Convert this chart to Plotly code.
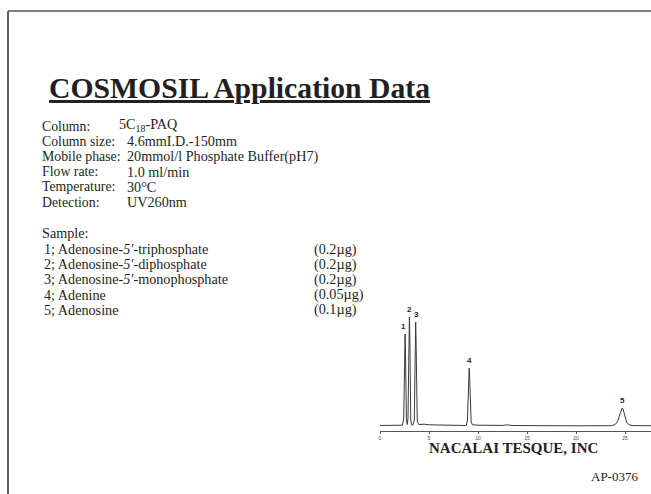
import plotly.graph_objects as go

W, H = 651, 494

# ---- data -------------------------------------------------------------
title = "COSMOSIL Application Data"
cond_labels = ["Column:", "Column size:", "Mobile phase:", "Flow rate:", "Temperature:", "Detection:"]
cond_values = ["5C<sub>18</sub>-PAQ", "4.6mmI.D.-150mm", "20mmol/l Phosphate Buffer(pH7)",
               "1.0 ml/min", "30°C", "UV260nm"]
sample_names = ["1; Adenosine-<i>5′</i>-triphosphate", "2; Adenosine-<i>5′</i>-diphosphate",
                "3; Adenosine-<i>5′</i>-monophosphate", "4; Adenine", "5; Adenosine"]
sample_amounts = ["(0.2µg)", "(0.2µg)", "(0.2µg)", "(0.05µg)", "(0.1µg)"]

# chromatogram trace (time in min, signal in arbitrary units)
time = [0, 2.0, 2.3, 2.42, 2.48, 2.52, 2.56, 2.6, 2.64, 2.7, 2.78,
        2.86, 2.92, 2.96, 3.0, 3.04, 3.08, 3.14, 3.22,
        3.35, 3.5, 3.56, 3.6, 3.64, 3.68, 3.72, 3.8, 3.95,
        4.5, 5.0, 6.0, 7.0, 8.0, 8.8, 8.92, 9.0, 9.06, 9.1, 9.14, 9.2, 9.3, 9.45,
        10.0, 12.5, 13.0, 13.5, 16.0, 20.0, 23.6, 24.0, 24.25, 24.45, 24.6, 24.7,
        24.8, 24.95, 25.15, 25.4, 25.8, 27.7]
signal = [0.5, 0.5, 0.8, 8, 40, 80, 92, 75, 35, 6, 1.5,
          8, 55, 95, 109, 92, 45, 6, 1.2,
          0.8, 6, 50, 92, 104, 85, 40, 5, 1.5,
          1.8, 1.2, 1.0, 1.2, 0.5, 0.5, 6, 30, 52, 58, 50, 22, 4, 1.2,
          0.8, 0.6, 1.2, 0.5, 0.2, 0.2, 0.3, 1.5, 5, 11, 16, 18,
          17, 11, 4, 1.2, 0.4, 0.3]
peak_labels = ["1", "2", "3", "4", "5"]
peak_times = [2.4, 3.0, 3.7, 9.1, 24.7]
peak_heights = [92, 109, 104, 58, 18]
x_ticks = [0, 5, 10, 15, 20, 25]

company = "NACALAI TESQUE, INC"
doc_id = "AP-0376"

# ---- helpers ----------------------------------------------------------
def px(x):
    return x / W

def py(y):
    return 1 - y / H

SERIF = "Liberation Serif, Times New Roman, serif"
SANS = "Liberation Sans, Arial, sans-serif"
INK = "#231f20"
LABEL_SIZE = 13.8
BODY = 14.2

fig = go.Figure()
fig.add_trace(go.Scatter(x=time, y=signal, mode="lines",
                         line=dict(color="#3a3a3a", width=1), hoverinfo="skip"))

ann = []
ann.append(dict(x=px(47), y=py(88), xref="paper", yref="paper", xanchor="left", yanchor="middle",
                text="<b><u>" + title + "</u></b>", showarrow=False,
                font=dict(family=SERIF, size=29.7, color=INK)))

cond_y0, cond_dy = 126, 15.2
for i, (lab, val) in enumerate(zip(cond_labels, cond_values)):
    yy = cond_y0 + i * cond_dy
    ann.append(dict(x=px(40), y=py(yy), xref="paper", yref="paper", xanchor="left", yanchor="middle",
                    text=lab, showarrow=False, font=dict(family=SERIF, size=LABEL_SIZE, color=INK)))
    ann.append(dict(x=px(117 if i == 0 else 125), y=py(yy - (1.5 if i == 0 else 0)),
                    xref="paper", yref="paper",
                    xanchor="left", yanchor="middle", text=val, showarrow=False,
                    font=dict(family=SERIF, size=BODY, color=INK)))

ann.append(dict(x=px(40), y=py(233), xref="paper", yref="paper", xanchor="left", yanchor="middle",
                text="Sample:", showarrow=False, font=dict(family=SERIF, size=BODY, color=INK)))
for i, (nm, am) in enumerate(zip(sample_names, sample_amounts)):
    yy = 249 + i * 15.2
    ann.append(dict(x=px(42), y=py(yy), xref="paper", yref="paper", xanchor="left", yanchor="middle",
                    text=nm, showarrow=False, font=dict(family=SERIF, size=BODY, color=INK)))
    ann.append(dict(x=px(312), y=py(yy), xref="paper", yref="paper", xanchor="left", yanchor="middle",
                    text=am, showarrow=False, font=dict(family=SERIF, size=BODY, color=INK)))

for lab, t, h in zip(peak_labels, peak_times, peak_heights):
    ann.append(dict(x=t, y=h, xref="x", yref="y", xanchor="center", yanchor="bottom",
                    text="<b>" + lab + "</b>", showarrow=False, yshift=1,
                    font=dict(family=SANS, size=8, color=INK)))

ann.append(dict(x=px(513), y=py(448), xref="paper", yref="paper", xanchor="center", yanchor="middle",
                text="<b>" + company + "</b>", showarrow=False,
                font=dict(family=SERIF, size=15, color=INK)))
ann.append(dict(x=px(640), y=py(476), xref="paper", yref="paper", xanchor="right", yanchor="middle",
                text=doc_id, showarrow=False, font=dict(family=SERIF, size=13, color=INK)))

shapes = [
    dict(type="line", xref="paper", yref="paper", x0=px(8), x1=px(8), y0=py(11), y1=0,
         line=dict(color="#2a2a2a", width=1.5)),
    dict(type="line", xref="paper", yref="paper", x0=px(8), x1=1, y0=py(11), y1=py(11),
         line=dict(color="#555555", width=1.5)),
]

fig.update_layout(
    width=W, height=H, margin=dict(l=0, r=0, t=0, b=0),
    paper_bgcolor="white", plot_bgcolor="white", showlegend=False,
    annotations=ann, shapes=shapes,
    xaxis=dict(domain=[px(380), 1], range=[0, 27.65], showgrid=False, zeroline=False,
               showline=True, linecolor="#555555", linewidth=1,
               tickmode="array", tickvals=x_ticks, ticks="outside", ticklen=2,
               tickcolor="#555555", tickfont=dict(family=SANS, size=5, color="#444444")),
    yaxis=dict(domain=[py(431), py(310)], range=[-5, 116], visible=False),
)

fig.write_html("out.html", config={"displayModeBar": False},
               post_script="document.body.style.margin='0';document.body.style.overflow='hidden';")
